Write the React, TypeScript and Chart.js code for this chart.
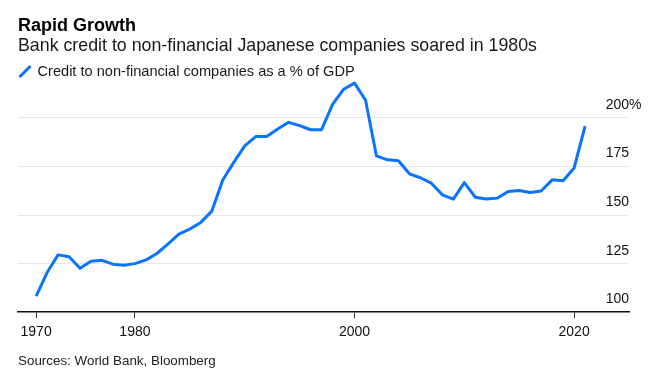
import React, { useEffect, useRef } from "react";
import { Chart, registerables } from "chart.js";

Chart.register(...registerables);

const years = [
  1971, 1972, 1973, 1974, 1975, 1976, 1977, 1978, 1979, 1980,
  1981, 1982, 1983, 1984, 1985, 1986, 1987, 1988, 1989, 1990,
  1991, 1992, 1993, 1994, 1995, 1996, 1997, 1998, 1999, 2000,
  2001, 2002, 2003, 2004, 2005, 2006, 2007, 2008, 2009, 2010,
  2011, 2012, 2013, 2014, 2015, 2016, 2017, 2018, 2019, 2020,
  2021,
];

const creditPct = [
  108.3, 120.4, 129.5, 128.5, 122.6, 126.2, 126.7, 124.7, 124.2, 125.0,
  126.9, 130.2, 135.0, 140.2, 142.8, 146.2, 152.0, 168.0, 177.1, 185.6,
  190.4, 190.4, 194.3, 197.7, 196.0, 193.9, 193.9, 206.9, 214.7, 217.9,
  209.2, 180.4, 178.4, 177.9, 171.2, 169.2, 166.4, 160.4, 158.2, 166.7,
  159.2, 158.2, 158.7, 162.1, 162.6, 161.6, 162.4, 168.1, 167.6, 174.2,
  195.7,
];

const xTickYears = [1971, 1980, 2000, 2020];
const xTickLabels = ["1970", "1980", "2000", "2020"];
const yTickValues = [100, 125, 150, 175, 200];
const yTickLabels = ["100", "125", "150", "175", "200%"];

const seriesLabel = "Credit to non-financial companies as a % of GDP";
const titleText = "Rapid Growth";
const subtitleText = "Bank credit to non-financial Japanese companies soared in 1980s";
const sourceText = "Sources: World Bank, Bloomberg";

const FONT = '"Liberation Sans", Arial, sans-serif';
const BLUE = "#0a74ff";

const yLabelPlugin = {
  id: "yLabelPlugin",
  afterDraw(chart: any) {
    const { ctx, chartArea } = chart;
    const y = chart.scales.y;
    ctx.save();
    ctx.font = `14px ${FONT}`;
    ctx.fillStyle = "#111";
    ctx.textBaseline = "alphabetic";
    const xRight = chartArea.right;
    yTickValues.forEach((v, i) => {
      const label = yTickLabels[i];
      const py = y.getPixelForValue(v) - 9;
      if (label.endsWith("%")) {
        ctx.textAlign = "right";
        ctx.fillText(label.slice(0, -1), xRight, py);
        ctx.textAlign = "left";
        ctx.fillText("%", xRight, py);
      } else {
        ctx.textAlign = "right";
        ctx.fillText(label, xRight, py);
      }
    });
    ctx.restore();
  },
};

export default function App() {
  const canvasRef = useRef<HTMLCanvasElement | null>(null);

  useEffect(() => {
    document.body.style.margin = "0";
    const canvas = canvasRef.current;
    if (!canvas) return;
    const chart = new Chart(canvas, {
      type: "line",
      data: {
        datasets: [
          {
            label: seriesLabel,
            data: years.map((yr, i) => ({ x: yr, y: creditPct[i] })),
            borderColor: BLUE,
            borderWidth: 3,
            pointRadius: 0,
            tension: 0,
            fill: false,
            borderJoinStyle: "round",
            borderCapStyle: "butt",
          },
        ],
      },
      options: {
        animation: false,
        responsive: false,
        devicePixelRatio: 1,
        layout: { padding: { left: 18, right: 31, top: 79, bottom: 42 } },
        plugins: {
          legend: { display: false },
          title: { display: false },
          tooltip: { enabled: false },
        },
        scales: {
          x: {
            type: "linear",
            min: 1969.35,
            max: 2025.0,
            afterBuildTicks: (axis: any) => {
              axis.ticks = xTickYears.map((v) => ({ value: v }));
            },
            grid: {
              drawOnChartArea: false,
              drawTicks: true,
              tickLength: 6,
              color: "#333",
              lineWidth: 1,
            },
            border: { display: true, color: "#111", width: 1.5 },
            ticks: {
              autoSkip: false,
              maxRotation: 0,
              padding: 6,
              color: "#111",
              font: { family: FONT, size: 14 },
              callback: (value: any) => {
                const idx = xTickYears.indexOf(Number(value));
                return idx >= 0 ? xTickLabels[idx] : "";
              },
            },
          },
          y: {
            type: "linear",
            position: "left",
            min: 100,
            max: 220,
            afterBuildTicks: (axis: any) => {
              axis.ticks = yTickValues.map((v) => ({ value: v }));
            },
            grid: {
              drawTicks: false,
              color: (c: any) =>
                c.tick && c.tick.value === 100 ? "rgba(0,0,0,0)" : "#e6e6e6",
              lineWidth: 1,
            },
            border: { display: false },
            ticks: { display: false },
          },
        },
      },
      plugins: [yLabelPlugin],
    });
    return () => chart.destroy();
  }, []);

  return (
    <div
      style={{
        position: "relative",
        width: 660,
        height: 389,
        fontFamily: FONT,
        background: "#fff",
        overflow: "hidden",
      }}
    >
      <canvas
        ref={canvasRef}
        width={660}
        height={389}
        style={{ position: "absolute", left: 0, top: 0, width: 660, height: 389 }}
      />
      <div
        style={{
          position: "absolute",
          left: 18,
          top: 15.5,
          fontSize: 18,
          lineHeight: "18px",
          fontWeight: "bold",
          color: "#000",
          whiteSpace: "nowrap",
        }}
      >
        {titleText}
      </div>
      <div
        style={{
          position: "absolute",
          left: 18,
          top: 37.4,
          fontSize: 17.8,
          lineHeight: "17.8px",
          color: "#1a1a1a",
          whiteSpace: "nowrap",
        }}
      >
        {subtitleText}
      </div>
      <svg
        style={{ position: "absolute", left: 18, top: 64 }}
        width={14}
        height={14}
      >
        <line x1={1.5} y1={13} x2={12.5} y2={2} stroke={BLUE} strokeWidth={3} />
      </svg>
      <div
        style={{
          position: "absolute",
          left: 37.5,
          top: 64.3,
          fontSize: 14.6,
          lineHeight: "14.6px",
          color: "#1a1a1a",
          whiteSpace: "nowrap",
        }}
      >
        {seriesLabel}
      </div>
      <div
        style={{
          position: "absolute",
          left: 18,
          top: 354.4,
          fontSize: 13.4,
          lineHeight: "13.4px",
          color: "#222",
          whiteSpace: "nowrap",
        }}
      >
        {sourceText}
      </div>
    </div>
  );
}
